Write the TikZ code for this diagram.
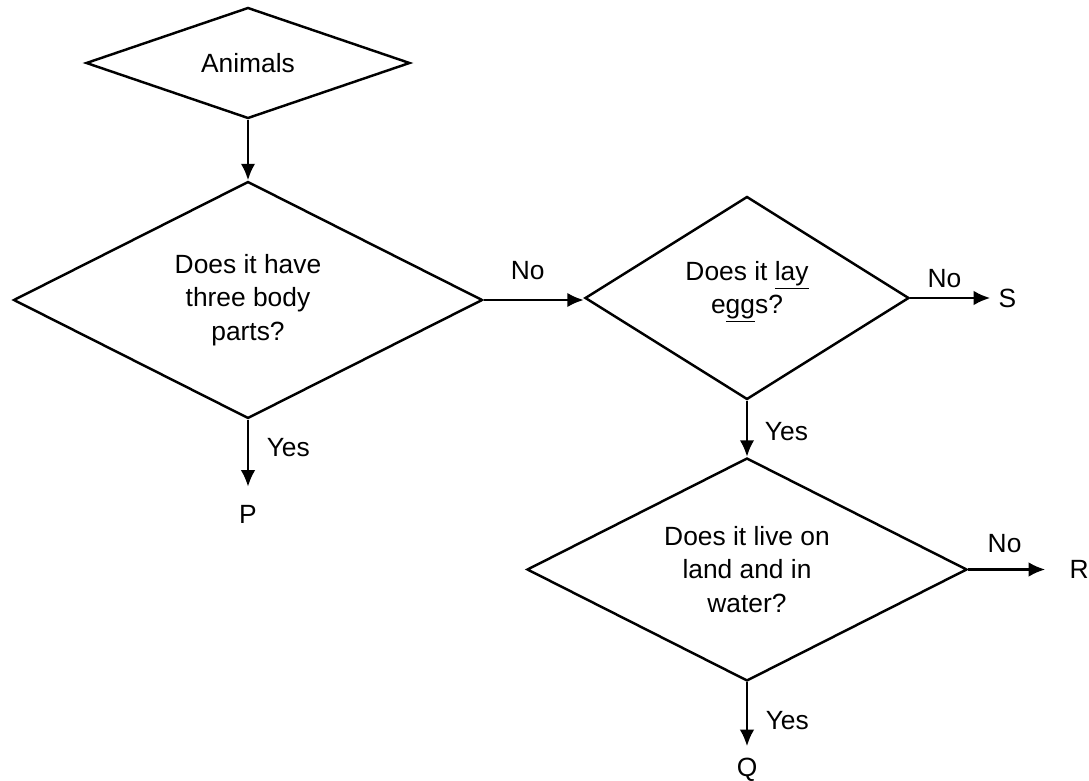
\documentclass[tikz,border=0pt]{standalone}
\usepackage{fontspec}
\setmainfont{Liberation Sans}
\usetikzlibrary{arrows.meta,positioning,shapes.geometric}

\begin{document}
\begin{tikzpicture}[
    font=\fontsize{15pt}{19pt}\selectfont,
    % --- decision diamonds ---
    decision/.style={draw, diamond, line width=1.4pt, inner sep=0pt, align=center},
    % --- arrows between them ---
    flow/.style={line width=1.4pt, -{Latex[length=3.3mm, width=2.9mm]}},
    answer/.style={inner sep=1pt},
    leaf/.style={inner sep=0pt}
]
    \useasboundingbox (0,0) rectangle (21.78,-15.62);

    % --- 1. the questions ---
    \node[decision, aspect=2.9, minimum width=6.48cm, minimum height=2.22cm] (animals) at (4.96,-1.26) {Animals};
    \node[decision, aspect=2, minimum width=9.38cm, minimum height=4.74cm] (parts) at (4.96,-6.0) {Does it have\\three body\\parts?};
    \node[decision, aspect=1.6, minimum width=6.48cm, minimum height=4.06cm] (eggs) at (14.94,-5.96) {Does it \underline{lay}\\e\underline{gg}s?\\[-0.25cm]};
    \node[decision, aspect=2, minimum width=8.8cm, minimum height=4.46cm] (land) at (14.94,-11.39) {Does it live on\\land and in\\water?};

    % --- 2. the answers ---
    \node[leaf, below=1.71cm of parts] (P) {P};
    \node[leaf, right=1.76cm of eggs] (S) {S};
    \node[leaf, right=2.02cm of land] (R) {R};
    \node[leaf, below=1.52cm of land] (Q) {Q};

    % --- 3. arrows ---
    \draw[flow] (animals.south) -- (parts.north);
    \draw[flow] (parts.east) -- node[answer, above=10pt, pos=.44] {No} (parts.east -| eggs.west);
    \draw[flow, shorten >=0.37cm] (parts.south) -- node[answer, right=9pt, pos=.32] {Yes} (P.north);
    \draw[flow, shorten >=0.16cm] (eggs.east) -- node[answer, above=4pt, pos=.39] {No} (S.west);
    \draw[flow] (eggs.south) -- node[answer, right=8.5pt, pos=.55] {Yes} (land.north);
    \draw[flow, shorten >=0.48cm] (land.east) -- node[answer, above=8pt, pos=.36] {No} (R.west);
    \draw[flow, shorten >=0.24cm] (land.south) -- node[answer, right=9pt, pos=.51] {Yes} (Q.north);

\end{tikzpicture}
\end{document}
